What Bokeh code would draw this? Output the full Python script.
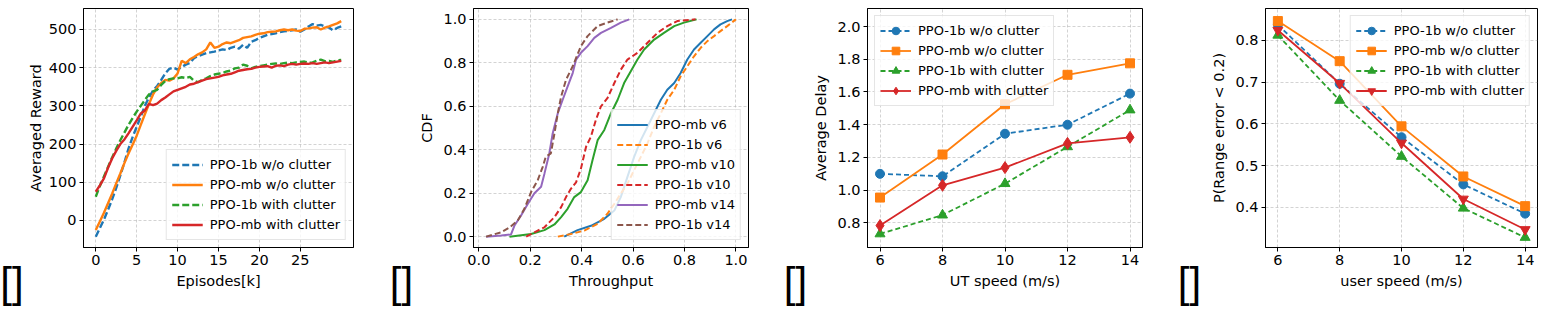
from bokeh.plotting import figure
from bokeh.layouts import row
from bokeh.models import (Range1d, FixedTicker, Legend, LegendItem, LinearAxis,
                          PrintfTickFormatter)
from bokeh.embed import file_html
from bokeh.resources import INLINE

FONT = "DejaVu Sans"
BRACKET_FONT = "Liberation Sans Narrow, Liberation Sans"
BLUE, ORANGE, GREEN, RED, PURPLE, BROWN = (
    "#1f77b4", "#ff7f0e", "#2ca02c", "#d62728", "#9467bd", "#8c564b")

# ---- (a) training curves: averaged reward vs. episodes (thousands) ----
episodes_k = [0, 0.5, 1, 1.5, 2, 2.5, 3, 3.5, 4, 4.5, 5, 5.5, 6, 6.5, 7, 7.5, 8, 8.5, 9, 9.5,
              10, 10.5, 11, 11.5, 12, 12.5, 13, 13.5, 14, 14.5, 15, 15.5, 16, 16.5, 17, 17.5,
              18, 18.5, 19, 19.5, 20, 20.5, 21, 21.5, 22, 22.5, 23, 23.5, 24, 24.5, 25, 25.5,
              26, 26.5, 27, 27.5, 28, 28.5, 29, 29.5, 30]
reward_1b_wo = [-43, -20, 2, 28, 55, 85, 118, 152, 188, 218,
                245, 272, 300, 322, 340, 352, 368, 385, 397, 400,
                395, 402, 408, 412, 425, 430, 434, 438, 440, 442,
                445, 448, 446, 452, 455, 450, 460, 452, 468, 472,
                478, 482, 486, 488, 490, 493, 495, 496, 498, 500,
                494, 500, 508, 514, 510, 512, 508, 505, 498, 504, 508]
reward_mb_wo = [-25, -3, 20, 45, 70, 97, 123, 150, 175, 198,
                222, 250, 278, 305, 330, 348, 360, 368, 366, 372,
                385, 418, 412, 422, 428, 435, 440, 448, 466, 452,
                455, 462, 466, 464, 468, 472, 478, 480, 482, 486,
                489, 490, 493, 494, 495, 498, 500, 498, 500, 497,
                496, 502, 503, 505, 506, 500, 505, 508, 512, 516, 522]
reward_1b_w = [62, 90, 115, 140, 165, 188, 210, 230, 250, 268,
               285, 300, 315, 330, 338, 342, 355, 365, 370, 372,
               372, 375, 373, 376, 366, 362, 368, 372, 378, 382,
               384, 386, 390, 393, 398, 400, 408, 405, 398, 402,
               404, 406, 408, 410, 411, 410, 412, 413, 412, 414,
               415, 416, 413, 414, 418, 421, 417, 418, 415, 419, 420]
reward_mb_w = [75, 92, 110, 138, 162, 182, 200, 212, 228, 245,
               262, 280, 288, 305, 302, 306, 315, 322, 330, 338,
               342, 346, 350, 356, 358, 362, 366, 370, 372, 374,
               376, 380, 382, 384, 388, 392, 394, 396, 397, 400,
               402, 403, 404, 400, 405, 406, 404, 408, 410, 408,
               410, 411, 410, 412, 410, 412, 414, 412, 414, 416, 418]
reward_xticks = [0, 5, 10, 15, 20, 25]
reward_yticks = [0, 100, 200, 300, 400, 500]

# ---- (b) throughput CDFs ----
thr_mb_v6 = [0.332, 0.384, 0.436, 0.488, 0.527, 0.552, 0.578, 0.604, 0.63, 0.656, 0.682, 0.708,
             0.733, 0.76, 0.785, 0.811, 0.837, 0.863, 0.889, 0.915, 0.94, 0.966, 0.985]
cdf_mb_v6 = [0.0, 0.03, 0.05, 0.082, 0.12, 0.182, 0.275, 0.367, 0.444, 0.506, 0.568, 0.63,
             0.676, 0.707, 0.753, 0.815, 0.861, 0.892, 0.923, 0.954, 0.977, 0.992, 1.0]
thr_1b_v6 = [0.307, 0.358, 0.41, 0.462, 0.5, 0.527, 0.552, 0.578, 0.604, 0.63, 0.656, 0.682,
             0.708, 0.733, 0.76, 0.785, 0.811, 0.837, 0.863, 0.889, 0.915, 0.94, 0.966, 1.0]
cdf_1b_v6 = [0.0, 0.012, 0.028, 0.059, 0.105, 0.151, 0.198, 0.244, 0.306, 0.367, 0.429, 0.506,
             0.568, 0.63, 0.676, 0.738, 0.784, 0.83, 0.869, 0.9, 0.923, 0.946, 0.969, 1.0]
thr_mb_v10 = [0.119, 0.203, 0.255, 0.294, 0.32, 0.345, 0.371, 0.397, 0.423, 0.442, 0.462, 0.488,
              0.514, 0.54, 0.565, 0.591, 0.617, 0.643, 0.682, 0.72, 0.76, 0.798, 0.847]
cdf_mb_v10 = [0.0, 0.012, 0.03, 0.056, 0.09, 0.128, 0.182, 0.205, 0.26, 0.352, 0.444, 0.491,
              0.568, 0.63, 0.707, 0.761, 0.815, 0.861, 0.907, 0.938, 0.969, 0.985, 1.0]
thr_1b_v10 = [0.184, 0.216, 0.255, 0.294, 0.32, 0.339, 0.358, 0.378, 0.397, 0.417, 0.436, 0.455,
              0.475, 0.5, 0.527, 0.552, 0.578, 0.617, 0.656, 0.695, 0.733, 0.772, 0.843]
cdf_1b_v10 = [0.0, 0.02, 0.043, 0.09, 0.136, 0.182, 0.22, 0.25, 0.313, 0.414, 0.46, 0.537,
              0.6, 0.637, 0.707, 0.768, 0.815, 0.846, 0.892, 0.938, 0.969, 0.992, 1.0]
thr_mb_v14 = [0.028, 0.087, 0.125, 0.138, 0.164, 0.19, 0.216, 0.242, 0.255, 0.274, 0.287, 0.307,
              0.326, 0.345, 0.365, 0.378, 0.397, 0.423, 0.449, 0.475, 0.514, 0.552, 0.585]
cdf_mb_v14 = [0.0, 0.005, 0.01, 0.05, 0.097, 0.15, 0.2, 0.23, 0.29, 0.383, 0.475, 0.568,
              0.63, 0.69, 0.753, 0.815, 0.846, 0.877, 0.915, 0.938, 0.961, 0.985, 1.0]
thr_1b_v14 = [0.028, 0.087, 0.12, 0.151, 0.177, 0.203, 0.229, 0.248, 0.26, 0.28, 0.294, 0.307,
              0.32, 0.339, 0.365, 0.397, 0.423, 0.462, 0.5, 0.54]
cdf_1b_v14 = [0.0, 0.02, 0.043, 0.074, 0.128, 0.205, 0.26, 0.32, 0.367, 0.383, 0.475, 0.568,
              0.645, 0.722, 0.784, 0.877, 0.923, 0.969, 0.985, 1.0]
cdf_ticks = [0.0, 0.2, 0.4, 0.6, 0.8, 1.0]

# ---- (c) average delay and (d) ranging probability vs. speed ----
speeds = [6, 8, 10, 12, 14]
delay_1b_wo = [1.10, 1.085, 1.345, 1.40, 1.59]
delay_mb_wo = [0.955, 1.218, 1.525, 1.705, 1.775]
delay_1b_w = [0.733, 0.848, 1.04, 1.265, 1.49]
delay_mb_w = [0.784, 1.03, 1.138, 1.286, 1.323]
delay_yticks = [0.8, 1.0, 1.2, 1.4, 1.6, 1.8, 2.0]

prob_1b_wo = [0.837, 0.696, 0.568, 0.455, 0.385]
prob_mb_wo = [0.846, 0.75, 0.594, 0.474, 0.403]
prob_1b_w = [0.812, 0.656, 0.522, 0.398, 0.328]
prob_mb_w = [0.824, 0.697, 0.554, 0.42, 0.347]
prob_yticks = [0.4, 0.5, 0.6, 0.7, 0.8]

legend_wo_w = ["PPO-1b w/o clutter", "PPO-mb w/o clutter",
               "PPO-1b with clutter", "PPO-mb with clutter"]
legend_cdf = ["PPO-mb v6", "PPO-1b v6", "PPO-mb v10", "PPO-1b v10", "PPO-mb v14", "PPO-1b v14"]
subcaption = "[]"


def make_panel(width, left, right, xr, yr, xticks, yticks, xlabel, ylabel, fmt=None,
               ylabel_standoff=5):
    p = figure(width=width, height=309, x_range=Range1d(*xr), y_range=Range1d(*yr),
               output_backend="svg", toolbar_location=None, title=None,
               min_border_left=left, min_border_right=right,
               min_border_top=8, min_border_bottom=62)
    p.outline_line_color = "black"
    p.outline_line_width = 1
    p.xaxis.ticker = FixedTicker(ticks=xticks)
    p.yaxis.ticker = FixedTicker(ticks=yticks)
    p.xgrid.ticker = FixedTicker(ticks=xticks)
    p.ygrid.ticker = FixedTicker(ticks=yticks)
    if fmt is not None:
        for ax, f in zip((p.xaxis[0], p.yaxis[0]), fmt):
            if f:
                ax.formatter = PrintfTickFormatter(format=f)
    p.xaxis.axis_label = xlabel
    p.yaxis.axis_label = ylabel
    for ax in (p.xaxis[0], p.yaxis[0]):
        ax.major_label_text_font = FONT
        ax.major_label_text_font_size = "14.5px"
        ax.major_label_text_color = "black"
        ax.axis_label_text_font = FONT
        ax.axis_label_text_font_size = "14.5px"
        ax.axis_label_text_font_style = "normal"
        ax.axis_label_text_color = "black"
        ax.axis_line_color = "black"
        ax.major_tick_line_color = "black"
        ax.major_tick_out = 4
        ax.major_tick_in = 0
        ax.minor_tick_out = 0
        ax.minor_tick_in = 0
        ax.major_label_standoff = 3
        ax.axis_label_standoff = 5
    p.yaxis.axis_label_standoff = ylabel_standoff
    p.grid.grid_line_color = "#b0b0b0"
    p.grid.grid_line_alpha = 0.7
    p.grid.grid_line_dash = "3 2"
    p.grid.grid_line_width = 0.8
    return p


def add_legend(p, items, location):
    leg = Legend(items=items, location=location)
    leg.label_text_font = FONT
    leg.label_text_font_size = "13px"
    leg.label_text_color = "black"
    leg.glyph_width = 31
    leg.glyph_height = 19
    leg.label_height = 19
    leg.label_standoff = 7
    leg.padding = 5
    leg.spacing = 1
    leg.margin = 7
    leg.border_line_color = "#cccccc"
    leg.border_line_width = 1
    leg.background_fill_alpha = 0.8
    p.add_layout(leg)


def bracket_strip(width):
    """Narrow strip whose bottom axis label carries the empty sub-caption brackets."""
    b = figure(width=width, height=309, output_backend="svg", toolbar_location=None,
               title=None, x_axis_type=None, y_axis_type=None,
               x_range=Range1d(-1, 1), y_range=Range1d(-1, 1),
               min_border_left=0, min_border_right=0,
               min_border_top=8, min_border_bottom=62)
    b.outline_line_color = None
    cap = LinearAxis(ticker=FixedTicker(ticks=[0]), axis_label=subcaption)
    cap.major_label_overrides = {0: ""}
    cap.major_label_text_font_size = "1px"
    cap.axis_line_color = None
    cap.major_tick_line_color = None
    cap.minor_tick_line_color = None
    cap.major_tick_out = 0
    cap.major_tick_in = 0
    cap.minor_tick_out = 0
    cap.minor_tick_in = 0
    cap.major_label_standoff = 0
    cap.axis_label_standoff = 11
    cap.axis_label_text_font = BRACKET_FONT
    cap.axis_label_text_font_size = "42px"
    cap.axis_label_text_font_style = "normal"
    cap.axis_label_text_color = "black"
    b.add_layout(cap, "below")
    return b


# (a)
p1 = make_panel(367, 60, 37, (-1.5, 31.5), (-71, 555), reward_xticks, reward_yticks,
                "Episodes[k]", "Averaged Reward", ylabel_standoff=2)
r1 = p1.line(episodes_k, reward_1b_wo, color=BLUE, line_width=2.4, line_dash="7 3")
r2 = p1.line(episodes_k, reward_mb_wo, color=ORANGE, line_width=2.4)
r3 = p1.line(episodes_k, reward_1b_w, color=GREEN, line_width=2.4, line_dash="7 3")
r4 = p1.line(episodes_k, reward_mb_w, color=RED, line_width=2.4)
add_legend(p1, [LegendItem(label=l, renderers=[r]) for l, r in zip(legend_wo_w, [r1, r2, r3, r4])],
           "bottom_right")

# (b)
p2 = make_panel(368, 61, 32, (-0.021, 1.049), (-0.05, 1.05), cdf_ticks, cdf_ticks,
                "Throughput", "CDF", fmt=("%.1f", "%.1f"))
cdf_series = [
    (thr_mb_v6, cdf_mb_v6, BLUE, None),
    (thr_1b_v6, cdf_1b_v6, ORANGE, "6 3"),
    (thr_mb_v10, cdf_mb_v10, GREEN, None),
    (thr_1b_v10, cdf_1b_v10, RED, "6 3"),
    (thr_mb_v14, cdf_mb_v14, PURPLE, None),
    (thr_1b_v14, cdf_1b_v14, BROWN, "6 3"),
]
cdf_renderers = []
for xs, ys, col, dash in cdf_series:
    kw = dict(color=col, line_width=2)
    if dash:
        kw["line_dash"] = dash
    cdf_renderers.append(p2.line(xs, ys, **kw))
add_legend(p2, [LegendItem(label=l, renderers=[r]) for l, r in zip(legend_cdf, cdf_renderers)],
           "bottom_right")


def speed_panel(p, series, location):
    items = []
    for label, ys, col, dash, marker, size in series:
        kw = dict(color=col, line_width=1.8)
        if dash:
            kw["line_dash"] = dash
        ln = p.line(speeds, ys, **kw)
        sc = p.scatter(speeds, ys, marker=marker, size=size, fill_color=col, line_color=col)
        items.append(LegendItem(label=label, renderers=[ln, sc]))
    add_legend(p, items, location)


# (c)
p3 = make_panel(360, 57, 28, (5.6, 14.4), (0.65, 2.11), speeds, delay_yticks,
                "UT speed (m/s)", "Average Delay", fmt=(None, "%.1f"))
speed_panel(p3, [
    (legend_wo_w[0], delay_1b_wo, BLUE, "5 3", "circle", 9),
    (legend_wo_w[1], delay_mb_wo, ORANGE, None, "square", 9),
    (legend_wo_w[2], delay_1b_w, GREEN, "5 3", "triangle", 10),
    (legend_wo_w[3], delay_mb_w, RED, None, "diamond", 12),
], "top_left")

# (d)
p4 = make_panel(338, 53, 9, (5.6, 14.4), (0.304, 0.876), speeds, prob_yticks,
                "user speed (m/s)", "P(Range error < 0.2)", fmt=(None, "%.1f"))
speed_panel(p4, [
    (legend_wo_w[0], prob_1b_wo, BLUE, "5 3", "circle", 9),
    (legend_wo_w[1], prob_mb_wo, ORANGE, None, "square", 9),
    (legend_wo_w[2], prob_1b_w, GREEN, "5 3", "triangle", 10),
    (legend_wo_w[3], prob_mb_w, RED, None, "inverted_triangle", 10),
], "top_right")

layout = row(bracket_strip(23), p1,
             bracket_strip(22), p2,
             bracket_strip(30), p3,
             bracket_strip(38), p4)
open("out.html", "w").write(file_html(layout, INLINE))
